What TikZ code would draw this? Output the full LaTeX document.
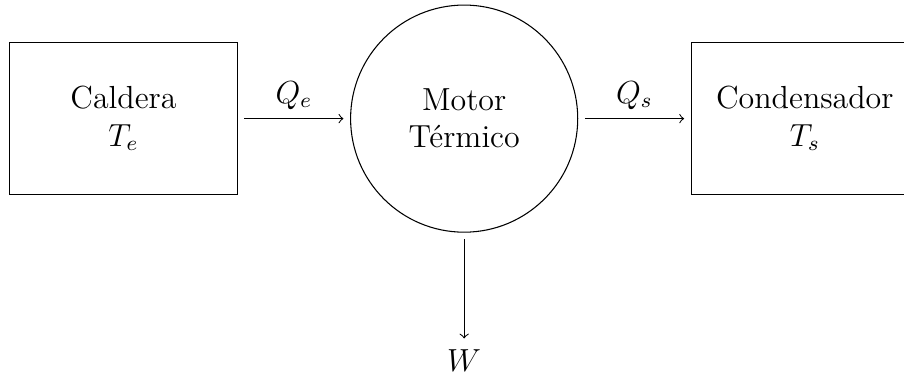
\documentclass[tikz,border=0pt]{standalone}
\usepackage{amsmath}
\usepackage{tikz}
\usetikzlibrary{
  shapes.geometric,
  positioning,
  calc
}
\tikzset{
focotext/.style={
  align=center,
  font=\large
},
focoblock/.style={
  draw,
  minimum height=2cm,
  minimum width=3cm,
  focotext
},
motorblock/.style={
  draw,
  circle,
  minimum size=3cm,
  inner sep=0pt,
  focotext
},
flujo/.style={
  ->,
  shorten >=2.5pt,
  shorten <=2.5pt
},
flujolabel/.style={
  font=\large,
  above
}
}

\begin{document}
\begin{tikzpicture}
  \useasboundingbox (-1.631,-3.414) rectangle (10.31,1.567);
  % focos y motor
  \node[focoblock] (caldera) at (0,0) {Caldera\\$T_e$};
  \node[motorblock] (motor) at (4.5,0) {Motor\\Térmico};
  \node[focoblock] (condensador) at (9,0) {Condensador\\$T_s$};
  \node[font=\large] (trabajo) at (4.5,-3.19) {$W$};
  % flujos de energia
  \draw[flujo] (caldera) -- node[flujolabel] {$Q_e$} (motor);
  \draw[flujo] (motor) -- node[flujolabel] {$Q_s$} (condensador);
  \draw[flujo, shorten >=0.5pt] (motor) -- (trabajo);
\end{tikzpicture}
\end{document}
